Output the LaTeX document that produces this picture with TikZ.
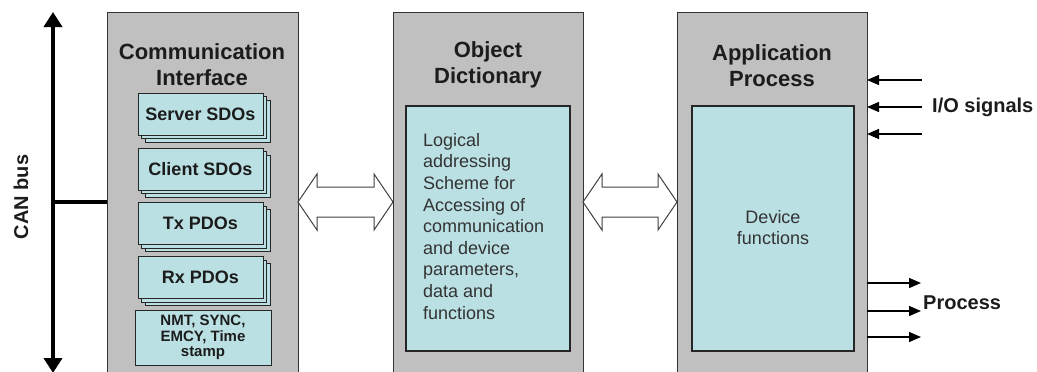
\documentclass[tikz,border=0pt]{standalone}
\usepackage{fontspec}
\setmainfont{Liberation Sans}
\usetikzlibrary{arrows.meta,shadows,calc}
\definecolor{panelgray}{RGB}{192,192,192}
\definecolor{paleteal}{RGB}{187,224,227}
\definecolor{ink}{RGB}{28,28,28}
\begin{document}
\begin{tikzpicture}[x=1pt,y=-1pt,
  panel/.style={draw=black!80, line width=1pt, fill=panelgray, minimum width=191pt,
    minimum height=380pt, anchor=north west, outer sep=0pt, inner sep=0pt},
  paneltitle/.style={font=\bfseries\fontsize{22}{26}\selectfont, align=center, text=ink},
  innerbox/.style={draw=black!85, line width=1.2pt, fill=paleteal, anchor=north west,
    outer sep=0pt, inner sep=0pt},
  objlayer/.style={draw=black!85, line width=1pt, fill=paleteal, minimum width=125pt,
    minimum height=42pt, inner sep=0pt, text=ink, font=\bfseries\fontsize{18}{21}\selectfont,
    double copy shadow={shadow xshift=3.5pt, shadow yshift=-3.5pt}},
  bodytext/.style={font=\fontsize{18}{21.6}\selectfont, text=ink!90, inner sep=0pt},
  sidelabel/.style={font=\bfseries\fontsize{20}{24}\selectfont, text=ink, inner sep=0pt},
  sig/.style={line width=1.4pt, -{Triangle[length=12pt,width=10pt]}},
  hollow/.style={draw=black!75, line width=1pt, fill=white, line join=miter}]
\useasboundingbox (0,0) rectangle (1037,372);
\clip (0,0) rectangle (1037,372);

% three main panels
\node[panel] (ci) at (107,12) {};
\node[panel, minimum width=190pt] (od) at (393,12) {};
\node[panel, minimum width=190pt] (ap) at (677,12) {};

\node[paneltitle] (citit) at (202,65) {Communication\\Interface};
\node[paneltitle] (odtit) at (488,65) {Object\\Dictionary};
\node[paneltitle] (aptit) at (772,66) {Application\\Process};

% communication objects
\node[objlayer] (srv) at (200.5,114) {Server SDOs};
\node[objlayer] (cli) at (200.5,169) {Client SDOs};
\node[objlayer] (tx)  at (200.5,223.5) {Tx PDOs};
\node[objlayer] (rx)  at (200.5,277.5) {Rx PDOs};
\node[draw=black!85, line width=1pt, fill=paleteal, minimum width=136pt, minimum height=55pt,
  inner sep=0pt, align=center, text=ink, font=\bfseries\fontsize{15}{15.6}\selectfont]
  (nmt) at (203,337.5) {NMT, SYNC,\\EMCY, Time\\stamp};

% object dictionary contents
\node[innerbox, minimum width=164pt, minimum height=245pt] (odin) at (406,106) {};
\node[bodytext, align=left, anchor=north west] (odtxt) at (423,133)
  {Logical\\addressing\\Scheme for\\Accessing of\\communication\\and device\\parameters,\\data and\\functions};

% application contents
\node[innerbox, minimum width=162pt, minimum height=245pt] (apin) at (692,106) {};
\node[bodytext, align=center, font=\fontsize{18}{21}\selectfont] (devf) at (773,228) {Device\\functions};

% CAN bus
\coordinate (bustop) at (53,12);
\coordinate (busbot) at (53,373);
\coordinate (tap) at (53,202);
\draw[line width=4.5pt, {Triangle[length=15pt,width=18pt]}-{Triangle[length=15pt,width=18pt]}]
  (busbot) -- (bustop);
\draw[line width=3.5pt] (tap) -- (tap -| ci.west);
\node[sidelabel, rotate=90] (can) at (21,197) {CAN bus};

% hollow double arrows between the panels
\draw[hollow] (ci.east) -- ++(19,-28) -- ++(0,13) -- ($(od.west)+(-19,-15)$)
  -- ++(0,-13) -- (od.west) -- ++(-19,28) -- ++(0,-13) -- ($(ci.east)+(19,15)$)
  -- ++(0,13) -- cycle;
\draw[hollow] (od.east) -- ++(19,-28) -- ++(0,13) -- ($(ap.west)+(-19,-15)$)
  -- ++(0,-13) -- (ap.west) -- ++(-19,28) -- ++(0,-13) -- ($(od.east)+(19,15)$)
  -- ++(0,13) -- cycle;

% I/O signals
\coordinate (in1) at (922,80);
\coordinate (in2) at (922,107);
\coordinate (in3) at (922,134);
\foreach \c in {in1,in2,in3} \draw[sig] (\c) -- (\c -| ap.east);
\node[sidelabel, anchor=west] (iolab) at (932,107) {I/O signals};

% process outputs
\coordinate (out1) at (921,283);
\coordinate (out2) at (921,311);
\coordinate (out3) at (921,337);
\foreach \c in {out1,out2,out3} \draw[sig] (\c -| ap.east) -- (\c);
\node[sidelabel, anchor=west] (proclab) at (923,303) {Process};
\end{tikzpicture}
\end{document}
